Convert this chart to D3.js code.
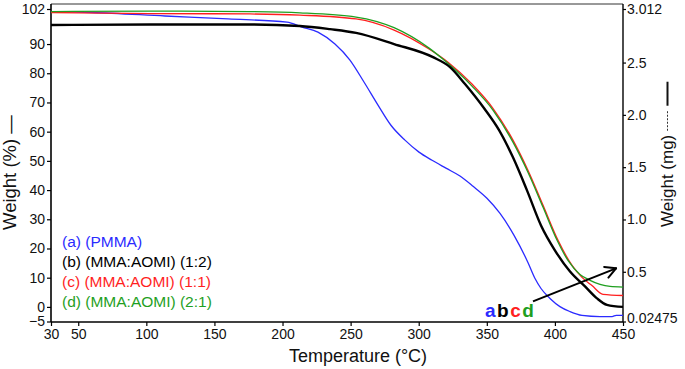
<!DOCTYPE html>
<html><head><meta charset="utf-8">
<script src="https://cdn.jsdelivr.net/npm/d3@7"></script>
<style>body{margin:0;background:#fff}svg{display:block}text{font-family:"Liberation Sans",Arial,sans-serif}</style>
</head><body><svg id="c" width="685" height="369"></svg>
<script>
// ---------- data ----------
const seriesNames = ["(a) (PMMA)", "(b) (MMA:AOMI) (1:2)", "(c) (MMA:AOMI) (1:1)", "(d) (MMA:AOMI) (2:1)"];
const seriesColors = ["#2b2bff", "#000000", "#ff1f1f", "#1f9f1f"];

const tempA   = [30, 60, 113.7, 160, 203.3, 214.3, 226, 238.5, 249.5, 259.8, 270.1, 279.6, 289.9, 300.2, 309.8, 320, 330.3, 339.9, 350.1, 359.7, 370, 380.2, 385.4, 389.8, 396.4, 403.7, 411.1, 419.9, 433.1, 442, 445, 450];
const weightA = [101.0, 100.8, 99.6, 98.6, 97.5, 95.8, 94.1, 90.0, 84.5, 77.0, 69.1, 62.2, 57.1, 53.0, 50.2, 47.5, 44.8, 41.3, 37.2, 32.0, 24.5, 15.2, 9.7, 6.3, 2.9, 0.1, -1.6, -2.9, -3.3, -3.3, -2.9, -2.9];

const tempB   = [30, 102.7, 176.1, 212.8, 234.9, 254, 281.9, 310.5, 323, 334.0, 348.0, 359.0, 369.2, 379.5, 389.8, 400.1, 411.1, 422.1, 430.9, 438.2, 450];
const weightB = [96.5, 96.7, 96.7, 96.2, 95.1, 93.8, 90.0, 85.5, 82.1, 76.3, 68.0, 60.5, 51.2, 39.9, 27.9, 19.3, 12.1, 7.0, 2.9, 0.7, 0.0];

const tempC   = [30, 102.7, 176.1, 212.8, 254, 281.9, 307.6, 321.5, 339.1, 354.5, 369.2, 380.2, 391.3, 402.3, 412.6, 419.9, 427.2, 435.3, 450];
const weightC = [100.8, 100.45, 100.3, 99.9, 98.6, 94.8, 88.3, 83.8, 76.3, 68.0, 57.1, 46.8, 34.8, 22.8, 14.2, 10.1, 7.3, 4.3, 3.9];

const tempD   = [30, 102.7, 176.1, 212.8, 254, 281.9, 307.6, 318.6, 339.1, 354.5, 369.2, 380.2, 391.3, 401.6, 409.6, 418.4, 425.8, 433.1, 440.5, 450];
const weightD = [101.1, 101.3, 101.1, 100.7, 99.25, 95.6, 88.6, 84.5, 75.6, 67.4, 56.4, 46.1, 34.1, 22.8, 15.9, 11.1, 9.1, 7.7, 7.0, 6.8];

const xTicks = [30, 50, 100, 150, 200, 250, 300, 350, 400, 450];
const yLeftTicks = [-5, 0, 10, 20, 30, 40, 50, 60, 70, 80, 90, 102];
const yRightTicks = [0.02475, 0.5, 1.0, 1.5, 2.0, 2.5, 3.012];
const yRightLabels = ["0.02475", "0.5", "1.0", "1.5", "2.0", "2.5", "3.012"];

const letters = ["a", "b", "c", "d"];
const letterPos = [348.7, -3.3];          // temperature, weight
const arrowTemps = [383.9, 444.9];
const arrowWeights = [1.9, 13.2];

// ---------- layout ----------
const L = 51, R = 623, T = 4, B = 322;
const svg = d3.select("#c");
const x = d3.scaleLinear().domain([30, 450]).range([L, R]);
const yL = d3.scaleLinear().domain([-5, 102]).range([321.5, 9]);
const yR = d3.scaleLinear().domain([0.02475, 3.012]).range([321.5, 9]);

// frame
svg.append("line").attr("x1", L).attr("x2", R).attr("y1", T).attr("y2", T).attr("stroke", "#333").attr("stroke-width", 1);
svg.append("line").attr("x1", L).attr("x2", L).attr("y1", T).attr("y2", B).attr("stroke", "#000").attr("stroke-width", 1.6);
svg.append("line").attr("x1", R).attr("x2", R).attr("y1", T).attr("y2", B).attr("stroke", "#000").attr("stroke-width", 1.4);
svg.append("line").attr("x1", L).attr("x2", R).attr("y1", B).attr("y2", B).attr("stroke", "#000").attr("stroke-width", 1.6);

// axes
function styleAxis(g) {
  g.select(".domain").remove();
  g.selectAll("text").attr("font-size", 14).attr("fill", "#111").attr("font-family", "'Liberation Sans',Arial,sans-serif");
  g.selectAll("line").attr("stroke", "#000").attr("stroke-width", 1.2);
}
svg.append("g").attr("transform", `translate(${L},0)`)
  .call(d3.axisLeft(yL).tickValues(yLeftTicks).tickSize(4).tickPadding(2).tickFormat(d3.format("d")))
  .call(styleAxis);
svg.append("g").attr("transform", `translate(0,${B})`)
  .call(d3.axisBottom(x).tickValues(xTicks).tickSize(4).tickPadding(3).tickFormat(d3.format("d")))
  .call(styleAxis);
const rAxis = svg.append("g").attr("transform", `translate(${R},0)`)
  .call(d3.axisRight(yR).tickValues(yRightTicks).tickSize(3).tickPadding(1).tickFormat((d, i) => yRightLabels[i]))
  .call(styleAxis);
rAxis.selectAll("text").filter(d => d === yRightTicks[0]).attr("dy", "0.1em");

// curves
const series = [
  {t: tempA, w: weightA, c: seriesColors[0], sw: 1.3},
  {t: tempC, w: weightC, c: seriesColors[2], sw: 1.3},
  {t: tempD, w: weightD, c: seriesColors[3], sw: 1.3},
  {t: tempB, w: weightB, c: seriesColors[1], sw: 2.4}
];
const line = d3.line().x(d => x(d[0])).y(d => yL(d[1])).curve(d3.curveMonotoneX);
series.forEach(s => {
  svg.append("path").datum(s.t.map((t, i) => [t, s.w[i]]))
    .attr("d", line).attr("fill", "none").attr("stroke", s.c).attr("stroke-width", s.sw)
    .attr("stroke-linejoin", "round");
});

// legend text
seriesNames.forEach((n, i) => {
  svg.append("text").attr("x", 62).attr("y", 246.5 + i * 20.2).attr("font-size", 15.5)
    .attr("fill", seriesColors[i]).text(n);
});

// a b c d label
const lt = svg.append("text").attr("x", x(letterPos[0])).attr("y", yL(letterPos[1]))
  .attr("font-family", "'Liberation Serif','Times New Roman',serif").attr("font-weight", "bold")
  .attr("font-size", 19).attr("letter-spacing", 1.5);
letters.forEach((l, i) => lt.append("tspan").attr("fill", seriesColors[i]).text(l));

// arrow
const ax1 = x(arrowTemps[0]), ay1 = yL(arrowWeights[0]), ax2 = x(arrowTemps[1]), ay2 = yL(arrowWeights[1]);
svg.append("line").attr("x1", ax1).attr("y1", ay1).attr("x2", ax2).attr("y2", ay2).attr("stroke", "#000").attr("stroke-width", 2);
const ang = Math.atan2(ay2 - ay1, ax2 - ax1);
[0.5, -0.5].forEach(da => {
  svg.append("line").attr("x1", ax2).attr("y1", ay2)
    .attr("x2", ax2 - 12 * Math.cos(ang + da)).attr("y2", ay2 - 12 * Math.sin(ang + da))
    .attr("stroke", "#000").attr("stroke-width", 2).attr("stroke-linecap", "round");
});

// axis titles
svg.append("text").attr("x", 358).attr("y", 362).attr("text-anchor", "middle").attr("font-size", 18).attr("fill", "#111").text("Temperature (°C)");
svg.append("text").attr("transform", "translate(16,230) rotate(-90)").attr("font-size", 18.5).attr("fill", "#111").text("Weight (%) \u2014");
const rg = svg.append("g").attr("transform", "translate(673,227) rotate(-90)");
const rt = rg.append("text").attr("font-size", 17).attr("fill", "#111").text("Weight (mg)");
const tw = rt.node().getComputedTextLength();
rg.append("line").attr("x1", tw + 4).attr("x2", tw + 25).attr("y1", -5.5).attr("y2", -5.5)
  .attr("stroke", "#333").attr("stroke-width", 1).attr("stroke-dasharray", "2,1.5");
rg.append("line").attr("x1", tw + 29).attr("x2", tw + 53).attr("y1", -5.5).attr("y2", -5.5)
  .attr("stroke", "#111").attr("stroke-width", 2);
</script></body></html>
